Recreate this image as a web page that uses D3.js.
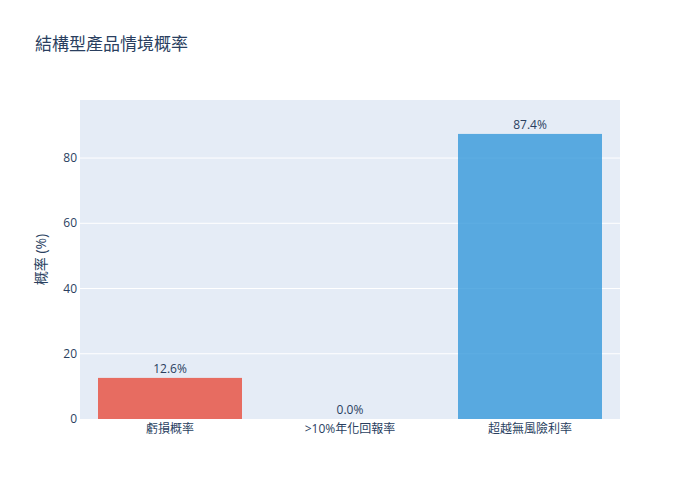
<!DOCTYPE html>
<html><head><meta charset="utf-8">
<script src="https://cdn.jsdelivr.net/npm/d3@7"></script>
<style>body{margin:0;background:#fff}text{font-family:"Open Sans","Noto Sans CJK TC",sans-serif}</style>
</head><body><div id="chart"></div>
<script>
var categories = ["虧損概率", ">10%年化回報率", "超越無風險利率"];
var values = [12.6, 0.0, 87.4];
var colors = ["#e74c3c", "#2ecc71", "#3498db"];
var yTicks = [0, 20, 40, 60, 80];

var width = 700, height = 500;
var margin = {top: 100, right: 80, bottom: 81, left: 80};
var svg = d3.select("#chart").append("svg").attr("width", width).attr("height", height);

var x = d3.scaleBand().domain(categories).range([margin.left, width - margin.right]).paddingInner(0.2).paddingOuter(0.1);
var y = d3.scaleLinear().domain([0, 97.8]).range([height - margin.bottom, margin.top]);

svg.append("rect").attr("x", margin.left).attr("y", margin.top)
  .attr("width", width - margin.left - margin.right).attr("height", height - margin.top - margin.bottom)
  .attr("fill", "#e5ecf6");

svg.append("g").selectAll("line").data(yTicks.slice(1)).join("line")
  .attr("x1", margin.left).attr("x2", width - margin.right)
  .attr("y1", d => y(d)).attr("y2", d => y(d)).attr("stroke", "#fff");

svg.append("g").selectAll("text").data(yTicks).join("text")
  .attr("x", margin.left - 3).attr("y", d => y(d)).attr("dy", "0.35em")
  .attr("text-anchor", "end").attr("font-size", 12).attr("fill", "#2a3f5f").text(d => d);

svg.append("g").selectAll("rect").data(values).join("rect")
  .attr("x", (d, i) => x(categories[i])).attr("width", x.bandwidth())
  .attr("y", d => y(d)).attr("height", d => y(0) - y(d))
  .attr("fill", (d, i) => colors[i]).attr("fill-opacity", 0.8);

svg.append("g").selectAll("text").data(values).join("text")
  .attr("x", (d, i) => x(categories[i]) + x.bandwidth() / 2).attr("y", d => y(d) - 5)
  .attr("text-anchor", "middle").attr("font-size", 12).attr("fill", "#2a3f5f")
  .text(d => d.toFixed(1) + "%");

svg.append("g").selectAll("text").data(categories).join("text")
  .attr("x", d => x(d) + x.bandwidth() / 2).attr("y", y(0) + 14)
  .attr("text-anchor", "middle").attr("font-size", 12).attr("fill", "#2a3f5f").text(d => d);

svg.append("text").attr("transform", "translate(46," + (margin.top + (height - margin.top - margin.bottom) / 2) + ") rotate(-90)")
  .attr("text-anchor", "middle").attr("font-size", 14).attr("fill", "#2a3f5f").text("概率 (%)");

svg.append("text").attr("x", 35).attr("y", 50).attr("font-size", 17).attr("fill", "#2a3f5f").text("結構型產品情境概率");
</script></body></html>
